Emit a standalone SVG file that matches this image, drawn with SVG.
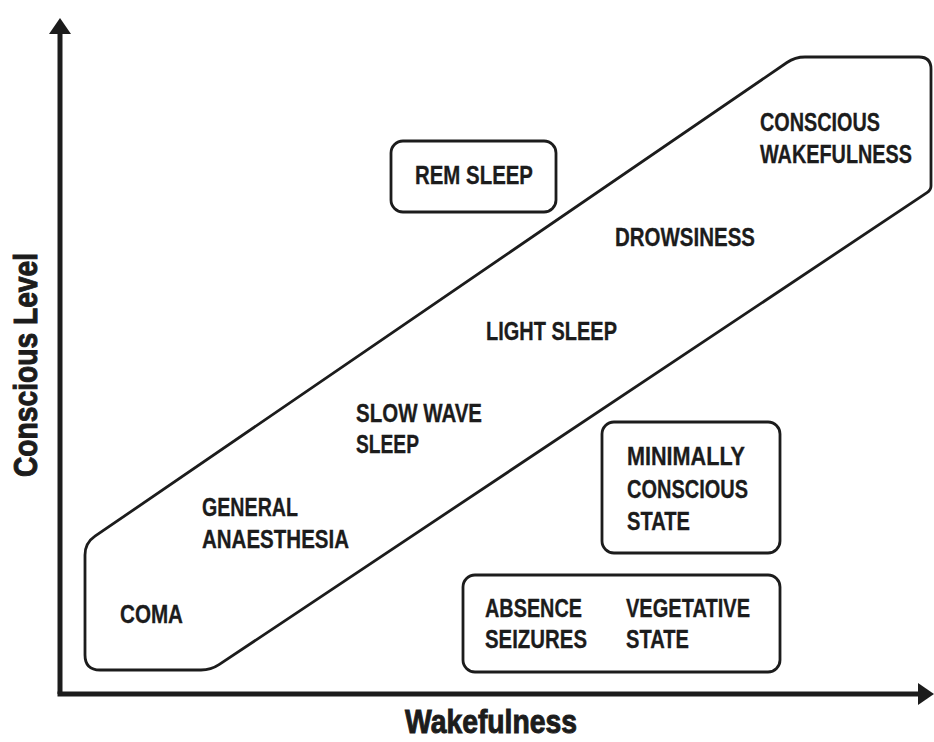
<svg xmlns="http://www.w3.org/2000/svg" width="934" height="742" viewBox="0 0 934 742">
<defs>
<style>
.lbl{font-family:"Liberation Sans",Arial,sans-serif;font-weight:bold;font-size:25px;fill:#1c1c1c;stroke:#1c1c1c;stroke-width:0.3}
.ax{font-family:"Liberation Sans",Arial,sans-serif;font-weight:bold;font-size:34px;fill:#1c1c1c;stroke:#1c1c1c;stroke-width:1}
.box{fill:none;stroke:#1c1c1c;stroke-width:2.8}
.axis{fill:none;stroke:#1c1c1c;stroke-width:5;stroke-linejoin:miter}
</style>
<marker id="arr" viewBox="0 0 16 22" refX="0" refY="11" markerWidth="16" markerHeight="22" markerUnits="userSpaceOnUse" orient="auto">
<path d="M0,0 L16,11 L0,22 Z" fill="#1c1c1c"/>
</marker>
</defs>
<rect width="934" height="742" fill="#ffffff"/>
<g id="connectors">
<path class="axis" d="M60,694 L60,34" marker-end="url(#arr)"/>
<path class="axis" d="M57.5,694 L918,694" marker-end="url(#arr)"/>
</g>
<g id="band">
<path class="box" d="M85,555 Q85,543 95,536.2 L787,62.5 Q795,57 805,57 L919,57 Q931,57 931,69 L931,186 Q931,190 927,192.7 L219,664.7 Q211,670 201,670 L100,670 Q85,670 85,655 Z"/>
</g>
<g id="rem-sleep">
<rect class="box" x="391" y="141" width="165" height="71" rx="12"/>
<text class="lbl" x="415" y="184" textLength="118" lengthAdjust="spacingAndGlyphs">REM SLEEP</text>
</g>
<g id="conscious-wakefulness">
<text class="lbl" x="760" y="131" textLength="120" lengthAdjust="spacingAndGlyphs">CONSCIOUS</text>
<text class="lbl" x="760" y="163" textLength="152" lengthAdjust="spacingAndGlyphs">WAKEFULNESS</text>
</g>
<g id="drowsiness"><text class="lbl" x="615" y="246" textLength="140" lengthAdjust="spacingAndGlyphs">DROWSINESS</text></g>
<g id="light-sleep"><text class="lbl" x="486" y="340" textLength="131" lengthAdjust="spacingAndGlyphs">LIGHT SLEEP</text></g>
<g id="slow-wave-sleep">
<text class="lbl" x="356" y="422" textLength="126" lengthAdjust="spacingAndGlyphs">SLOW WAVE</text>
<text class="lbl" x="356" y="453" textLength="63" lengthAdjust="spacingAndGlyphs">SLEEP</text>
</g>
<g id="general-anaesthesia">
<text class="lbl" x="202" y="516" textLength="96" lengthAdjust="spacingAndGlyphs">GENERAL</text>
<text class="lbl" x="202" y="548" textLength="147" lengthAdjust="spacingAndGlyphs">ANAESTHESIA</text>
</g>
<g id="coma"><text class="lbl" x="120" y="623" textLength="63" lengthAdjust="spacingAndGlyphs">COMA</text></g>
<g id="minimally-conscious-state">
<rect class="box" x="602" y="422" width="178" height="131" rx="12"/>
<text class="lbl" x="627" y="465" textLength="118" lengthAdjust="spacingAndGlyphs">MINIMALLY</text>
<text class="lbl" x="627" y="498" textLength="121" lengthAdjust="spacingAndGlyphs">CONSCIOUS</text>
<text class="lbl" x="627" y="530" textLength="63" lengthAdjust="spacingAndGlyphs">STATE</text>
</g>
<g id="absence-vegetative">
<rect class="box" x="463" y="575" width="317" height="97" rx="12"/>
<text class="lbl" x="485" y="617" textLength="97" lengthAdjust="spacingAndGlyphs">ABSENCE</text>
<text class="lbl" x="485" y="648" textLength="102" lengthAdjust="spacingAndGlyphs">SEIZURES</text>
<text class="lbl" x="626" y="617" textLength="124" lengthAdjust="spacingAndGlyphs">VEGETATIVE</text>
<text class="lbl" x="626" y="648" textLength="63" lengthAdjust="spacingAndGlyphs">STATE</text>
</g>
<g id="x-label"><text class="ax" x="405" y="733" textLength="172" lengthAdjust="spacingAndGlyphs">Wakefulness</text></g>
<g id="y-label"><text class="ax" transform="translate(37,477) rotate(-90)" textLength="224" lengthAdjust="spacingAndGlyphs">Conscious Level</text></g>
</svg>
